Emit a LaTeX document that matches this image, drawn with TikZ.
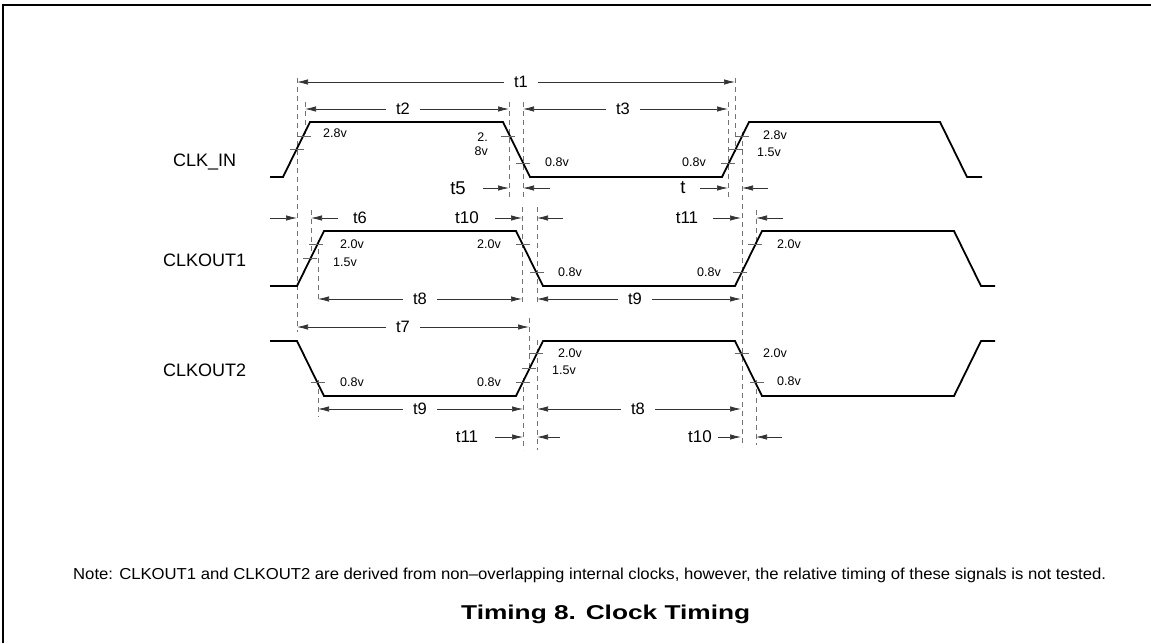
\documentclass[tikz,border=0pt]{standalone}
\usepackage{fontspec}
\usepackage{graphicx}
\setmainfont{Liberation Sans}
\usetikzlibrary{arrows.meta}
\newcommand\GLine[4]{\coordinate (#1t) at (#2,#3); \coordinate (#1b) at (#2,#4); \draw[guide] (#1t) -- (#1b);}
\newcommand\Arr[4]{\coordinate (#1s) at (#2,#4); \coordinate (#1e) at (#3,#4); \draw[dimarr] (#1s) -- (#1e);}
\newcommand\DimLine[6]{\coordinate (#1a) at (#2,#4); \coordinate (#1b) at (#3,#4);
  \node[tl] (#1) at (#5,#4) {#6};
  \draw[dimarr] (#1.west) -- (#1a); \draw[dimarr] (#1.east) -- (#1b);}
\newcommand\VTick[2]{\draw[vtick] (#1-7,#2) -- (#1+7,#2);}
\begin{document}
\begin{tikzpicture}[x=1pt,y=-1pt,
  wave/.style={line width=1.8pt, line join=miter},
  guide/.style={line width=0.7pt, black!55, dash pattern=on 5pt off 4pt},
  dimarr/.style={line width=0.7pt, black!80, -{Latex[length=11pt,width=5.5pt]}},
  vtick/.style={line width=0.7pt, black!60},
  tl/.style={font=\fontsize{16.5}{16.5}\selectfont, inner sep=0pt, inner xsep=10pt},
  tlbig/.style={font=\fontsize{18.5}{18.5}\selectfont, inner sep=0pt},
  tlmid/.style={font=\fontsize{17}{17}\selectfont, inner sep=0pt},
  volt/.style={font=\fontsize{12.5}{14}\selectfont, inner sep=0pt, anchor=west},
  sig/.style={font=\fontsize{18}{18}\selectfont, inner sep=0pt, anchor=base west},
]
\useasboundingbox (0,0) rectangle (1151,643);
% frame
\draw[line width=2pt] (2.5,643) -- (2.5,5) -- (1151,5);

% guide lines
\GLine{g1}{297}{78}{332}
\GLine{g2}{305}{102}{138}
\GLine{g3}{509}{102}{199}
\GLine{g4}{523}{102}{199}
\GLine{g5}{728}{102}{197}
\GLine{g6}{735}{78}{152}
\GLine{g7}{742}{132}{447}
\GLine{g8}{311}{210}{260}
\GLine{g9}{318}{240}{303}
\GLine{g10}{522}{207}{303}
\GLine{g11}{537}{207}{303}
\GLine{g12}{756}{210}{246}
\GLine{g13}{529}{318}{368}
\GLine{g14}{318}{380}{417}
\GLine{g15}{523}{378}{450}
\GLine{g16}{537}{340}{450}
\GLine{g17}{756}{380}{445}

% waveforms
\draw[wave] (270,177) -- (283,177) -- (310,122) -- (503,122) -- (530,177) -- (722,177) -- (749,122) -- (940,122) -- (967,177) -- (982,177);
\draw[wave] (270,286) -- (297,286) -- (324,231) -- (516,231) -- (543,286) -- (735,286) -- (762,231) -- (954,231) -- (981,286) -- (995,286);
\draw[wave] (270,341) -- (297,341) -- (324,396) -- (516,396) -- (543,341) -- (735,341) -- (762,396) -- (954,396) -- (981,341) -- (995,341);

% ticks
\VTick{304}{136} \VTick{297}{149.5} \VTick{508}{136} \VTick{523}{163}
\VTick{728}{163} \VTick{736}{149.5} \VTick{742}{136}
\VTick{316}{244.3} \VTick{310}{258.3} \VTick{523}{244.3} \VTick{537}{272}
\VTick{740}{272} \VTick{755}{244.3}
\VTick{318}{382} \VTick{523}{382} \VTick{529}{368} \VTick{536}{353}
\VTick{741.5}{353} \VTick{757}{382}

% signal names
\node[sig] (sclk) at (173,166.7) {CLK\_IN};
\node[sig] (sc1) at (163,266.7) {CLKOUT1};
\node[sig] (sc2) at (163,376.7) {CLKOUT2};

% voltage labels
\node[volt] (v1) at (323,133) {2.8v};
\node[volt, anchor=east, align=right] (v2) at (488,144) {2.\\8v};
\node[volt] (v3) at (545,162) {0.8v};
\node[volt] (v4) at (682,162) {0.8v};
\node[volt] (v5) at (763,135.5) {2.8v};
\node[volt] (v6) at (757,152.5) {1.5v};
\node[volt] (v7) at (340,244) {2.0v};
\node[volt] (v8) at (333,262) {1.5v};
\node[volt] (v9) at (477,244) {2.0v};
\node[volt] (v10) at (558,272) {0.8v};
\node[volt] (v11) at (697,272) {0.8v};
\node[volt] (v12) at (777,244) {2.0v};
\node[volt] (v13) at (340,382) {0.8v};
\node[volt] (v14) at (477,382) {0.8v};
\node[volt] (v15) at (558,353) {2.0v};
\node[volt] (v16) at (552,370) {1.5v};
\node[volt] (v17) at (763,353) {2.0v};
\node[volt] (v18) at (777,381) {0.8v};

% dimension lines
\DimLine{d1}{297}{735}{82}{521}{t1}
\DimLine{d2}{305}{509}{109}{403}{t2}
\DimLine{d3}{523}{728}{109}{623}{t3}
\DimLine{d8a}{318}{522}{299}{420}{t8}
\DimLine{d9a}{537}{741}{299}{635}{t9}
\DimLine{d7}{297}{529}{327}{403}{t7}
\DimLine{d9b}{318}{523}{409}{420}{t9}
\DimLine{d8b}{537}{741}{409}{638}{t8}

% short arrows
\Arr{a1}{483}{509}{188} \Arr{a2}{550}{523}{188}
\Arr{a3}{700}{728}{188} \Arr{a4}{768}{742}{188}
\Arr{a5}{270}{297}{218} \Arr{a6}{338}{311}{218}
\Arr{a7}{495}{522}{218} \Arr{a8}{563}{537}{218}
\Arr{a9}{713}{741}{218} \Arr{a10}{783}{756}{218}
\Arr{a11}{495}{523}{437} \Arr{a12}{560}{537}{437}
\Arr{a13}{718}{741}{437} \Arr{a14}{782}{756}{437}

\node[tlbig] (t5) at (458,188) {t5};
\node[tlbig] (t4) at (683,188) {t};
\node[tl, inner xsep=0pt] (t6) at (360,218) {t6};
\node[tlmid] (t10a) at (467,218) {t10};
\node[tlmid] (t11a) at (687,218) {t11};
\node[tlmid] (t11b) at (467,437) {t11};
\node[tlmid] (t10b) at (700,437) {t10};

% note and title
\node[inner sep=0pt, anchor=base west] (note) at (73,579) {\resizebox{1033pt}{11.5pt}{\fontsize{15}{15}\selectfont Note: CLKOUT1 and CLKOUT2 are derived from non--overlapping internal clocks, however, the relative timing of these signals is not tested.}};
\node[inner sep=0pt, anchor=base west] (title) at (461,619) {\resizebox{289pt}{14.5pt}{\fontsize{18}{18}\selectfont\bfseries Timing 8. Clock Timing}};
\end{tikzpicture}
\end{document}
